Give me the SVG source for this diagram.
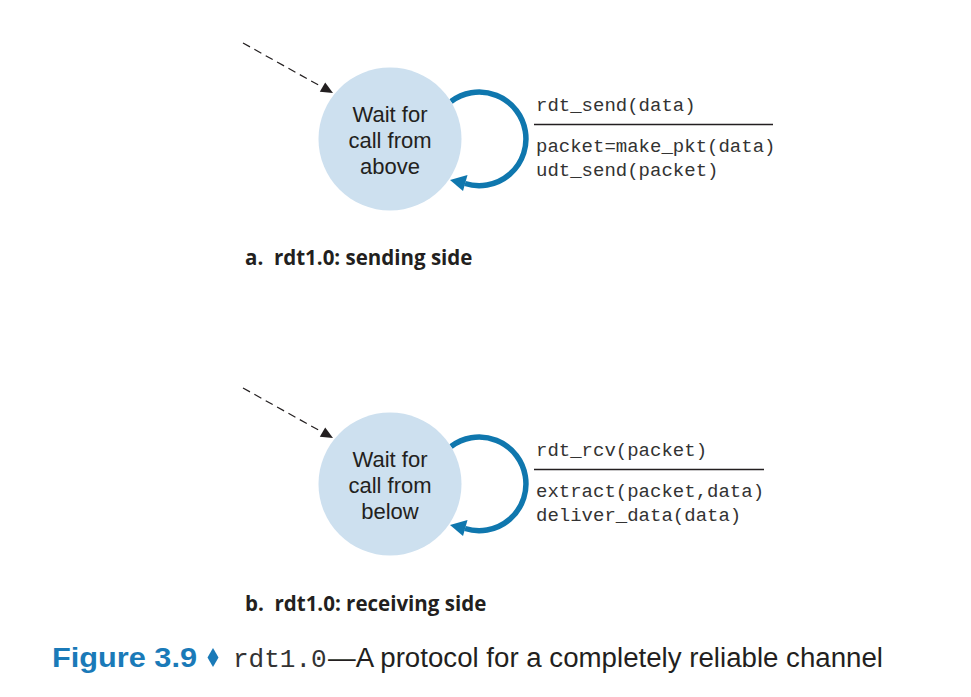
<svg xmlns="http://www.w3.org/2000/svg" width="971" height="697" viewBox="0 0 971 697">
<style>
.state{fill:#cde0ef;}
.stxt{font-family:"Liberation Sans",Arial,sans-serif;font-size:22px;fill:#231f20;text-anchor:middle;}
.code{font-family:"Liberation Mono","Courier New",monospace;font-size:19px;fill:#333333;}
.rule{stroke:#231f20;stroke-width:1.3;}
.loop{fill:none;stroke:#0f77ae;stroke-width:5.5;}
.loophead{fill:#0f77ae;}
.init{fill:none;stroke:#231f20;stroke-width:1.2;stroke-dasharray:8 5;}
.inithead{fill:#231f20;}
.sub{font-family:"Open Sans","Liberation Sans",sans-serif;font-size:20.5px;font-weight:bold;fill:#231f20;white-space:pre;}
</style>
<rect width="971" height="697" fill="#ffffff"/>
<g id="connectors">
  <line class="init" x1="243" y1="43" x2="322" y2="87"/>
  <polygon class="inithead" points="333,93 319.8,91.8 325.2,82.6"/>
  <path class="loop" d="M451,101.5 A46.8,46.8 0 1 1 465,183.5"/>
  <polygon class="loophead" points="450,180 467.5,175 463,191"/>
  <line class="init" x1="243" y1="388" x2="322" y2="432"/>
  <polygon class="inithead" points="333,438 319.8,436.8 325.2,427.6"/>
  <path class="loop" d="M451,446.5 A46.8,46.8 0 1 1 465,528.5"/>
  <polygon class="loophead" points="450,525 467.5,520 463,536"/>
</g>
<g id="state-sending">
  <circle class="state" cx="390" cy="139" r="71.5"/>
  <text class="stxt" x="390" y="122">Wait for</text>
  <text class="stxt" x="390" y="148">call from</text>
  <text class="stxt" x="390" y="174">above</text>
</g>
<g id="label-sending">
  <text class="code" x="536" y="111">rdt_send(data)</text>
  <line class="rule" x1="534" y1="124.5" x2="773" y2="124.5"/>
  <text class="code" x="536" y="152">packet=make_pkt(data)</text>
  <text class="code" x="536" y="176">udt_send(packet)</text>
</g>
<g id="state-receiving">
  <circle class="state" cx="390" cy="484" r="71.5"/>
  <text class="stxt" x="390" y="467">Wait for</text>
  <text class="stxt" x="390" y="493">call from</text>
  <text class="stxt" x="390" y="519">below</text>
</g>
<g id="label-receiving">
  <text class="code" x="536" y="456">rdt_rcv(packet)</text>
  <line class="rule" x1="534" y1="469.5" x2="764" y2="469.5"/>
  <text class="code" x="536" y="497">extract(packet,data)</text>
  <text class="code" x="536" y="521">deliver_data(data)</text>
</g>
<text class="sub" x="245" y="265" xml:space="preserve">a.  rdt1.0: sending side</text>
<text class="sub" x="245" y="611" xml:space="preserve">b.  rdt1.0: receiving side</text>
<g id="caption">
  <text x="52" y="667" font-family="'Liberation Sans',Arial,sans-serif" font-size="27" font-weight="bold" fill="#1a7ab8" textLength="145" lengthAdjust="spacingAndGlyphs">Figure 3.9</text>
  <polygon points="213,648 218.5,657.5 213,667 207.5,657.5" fill="#1a7ab8"/>
  <text x="233" y="667" font-family="'Liberation Mono','Courier New',monospace" font-size="26" fill="#333333">rdt1.0</text>
  <text x="328" y="667" font-family="'Liberation Sans',Arial,sans-serif" font-size="27" fill="#231f20" textLength="555" lengthAdjust="spacingAndGlyphs">—A protocol for a completely reliable channel</text>
</g>
</svg>
